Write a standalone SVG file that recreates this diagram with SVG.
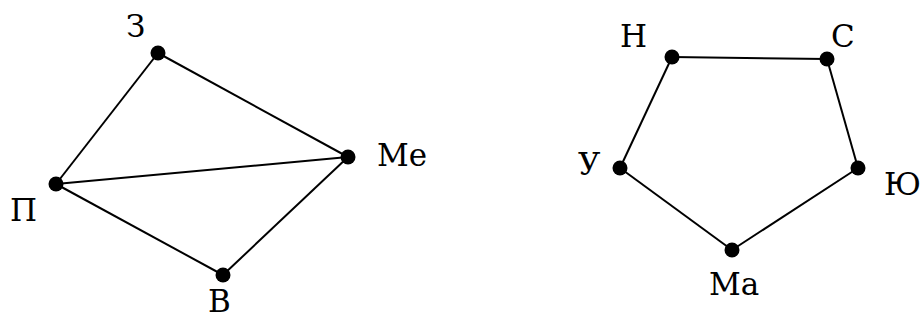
<svg xmlns="http://www.w3.org/2000/svg" width="923" height="320" viewBox="0 0 923 320">
<style>
.e{stroke:#000;stroke-width:2;fill:none}
text{font-family:'DejaVu Serif',serif;font-size:31px;fill:#000}
</style>
<rect width="923" height="320" fill="#fff"/>
<g id="connectors">
<line class="e" x1="158" y1="53" x2="56" y2="184"/>
<line class="e" x1="158" y1="53" x2="348" y2="157"/>
<line class="e" x1="56" y1="184" x2="348" y2="157"/>
<line class="e" x1="56" y1="184" x2="223" y2="275"/>
<line class="e" x1="223" y1="275" x2="348" y2="157"/>
<line class="e" x1="672" y1="57" x2="827" y2="59"/>
<line class="e" x1="672" y1="57" x2="620" y2="168"/>
<line class="e" x1="827" y1="59" x2="858" y2="168"/>
<line class="e" x1="620" y1="168" x2="732" y2="250"/>
<line class="e" x1="858" y1="168" x2="732" y2="250"/>
</g>
<g id="node-Z"><circle cx="158" cy="53" r="7.5"/><text x="126" y="37">З</text></g>
<g id="node-Me"><circle cx="348" cy="157" r="7.5"/><text x="377" y="166">Ме</text></g>
<g id="node-P"><circle cx="56" cy="184" r="7.5"/><text x="10" y="221">П</text></g>
<g id="node-V"><circle cx="223" cy="275" r="7.5"/><text x="208" y="312">В</text></g>
<g id="node-N"><circle cx="672" cy="57" r="7.5"/><text x="620" y="47">Н</text></g>
<g id="node-S"><circle cx="827" cy="59" r="7.5"/><text x="831" y="47">С</text></g>
<g id="node-U"><circle cx="620" cy="168" r="7.5"/><text x="578" y="175">У</text></g>
<g id="node-Yu"><circle cx="858" cy="168" r="7.5"/><text x="884" y="195">Ю</text></g>
<g id="node-Ma"><circle cx="732" cy="250" r="7.5"/><text x="709" y="295">Ма</text></g>
</svg>
